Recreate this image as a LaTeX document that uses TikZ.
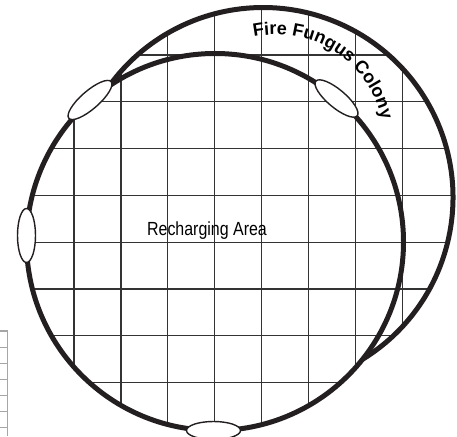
\documentclass[tikz,border=0pt]{standalone}
\usepackage{fontspec}
\setmainfont{Liberation Sans}
\newfontfamily\labelfont{Liberation Sans}
\usetikzlibrary{decorations.text}
\definecolor{ink}{HTML}{231F20}
\definecolor{gridink}{HTML}{333333}
\tikzset{
  ring/.style={draw=ink, line width=5pt},
  gridline/.style={draw=gridink, line width=1.2pt},
  portal/.style={draw=ink, fill=white, line width=1.4pt},
  tabline/.style={draw=gray!70, line width=0.9pt},
}
\begin{document}
\begin{tikzpicture}[x=1pt,y=1pt]
\useasboundingbox (0,0) rectangle (457,436);
\coordinate (cl) at (215,194);
\coordinate (cr) at (263,238.5);
% grid clipped to union of circles
\begin{scope}
  \clip (cl) circle[radius=188.5pt] (cr) circle[radius=190pt];
  \foreach \k in {0,...,7} {
    \pgfmathsetmacro{\xx}{74+46.9*\k}
    \draw[gridline] (\xx,0) -- (\xx,436);
  }
  \foreach \k in {0,...,8} {
    \pgfmathsetmacro{\yy}{436-55-46.8*\k}
    \draw[gridline] (0,\yy) -- (457,\yy);
  }
\end{scope}
% circles
\draw[ring] (cl) circle[radius=188.5pt];
\draw[ring] (cr) ++(-58.4:190pt) arc[start angle=-58.4, end angle=144.1, radius=190pt];
% portals
\draw[portal, shift={(90,336)}, rotate=41] (0,0) ellipse[x radius=28pt, y radius=9pt];
\draw[portal, shift={(336.5,337.5)}, rotate=-40] (0,0) ellipse[x radius=27pt, y radius=9pt];
\draw[portal] (26.5,200.5) ellipse[x radius=9pt, y radius=27pt];
\draw[portal] (213.5,5.5) ellipse[x radius=27pt, y radius=9pt];
% labels
\node[anchor=base, inner sep=0pt] (recharge) at (207,200)
  {\scalebox{0.84}[1]{\labelfont\fontsize{19}{19}\selectfont Recharging Area}};
\path[decorate, decoration={text along path,
    text={|\labelfont\bfseries\fontsize{18}{18}\selectfont|Fire Fungus Colony},
    text align=center}]
  (276,293.5) ++(110:108pt) arc[start angle=110, end angle=4, radius=108pt];
% table fragment at left edge
\draw[tabline, line width=1.3pt] (0,105) -- (7.3,105);
\foreach \yy in {89,73,57,41,25,9} {
  \draw[tabline] (0,\yy) -- (7.3,\yy);
}
\draw[tabline, line width=1.3pt] (7.3,105.6) -- (7.3,0);
\end{tikzpicture}
\end{document}
